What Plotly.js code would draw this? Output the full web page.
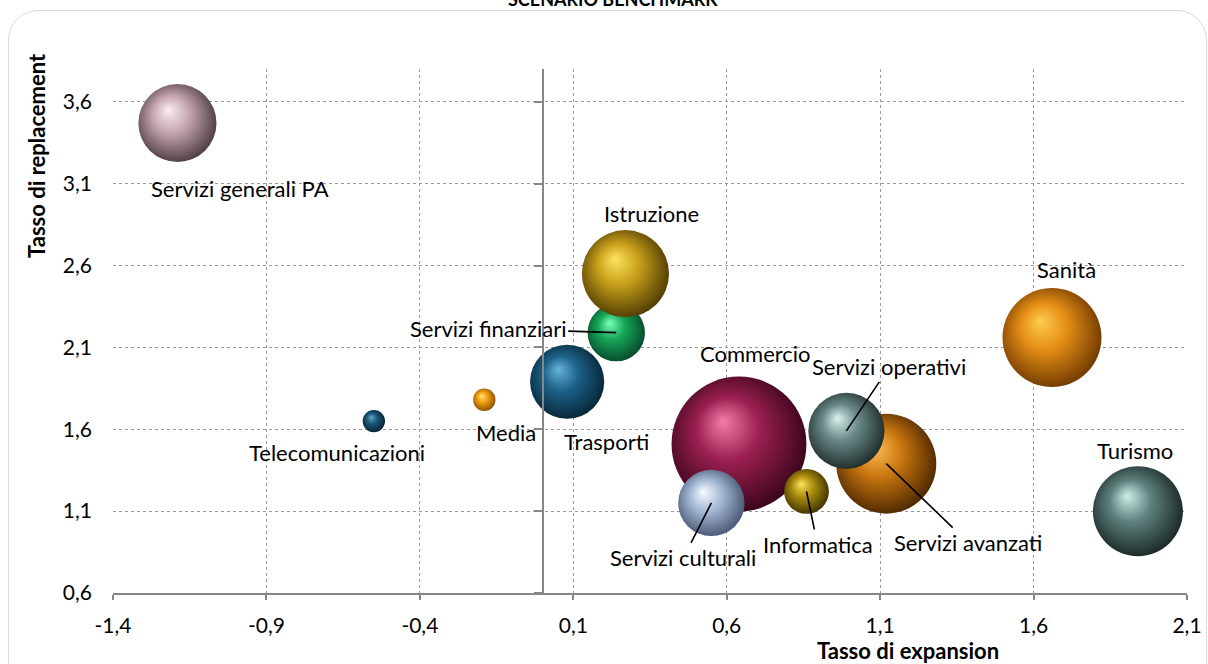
<!DOCTYPE html>
<html>
<head>
<meta charset="utf-8">
<script src="https://cdn.plot.ly/plotly-3.0.1.min.js"></script>
<style>
  html, body { margin: 0; padding: 0; background: #fff; overflow: hidden; }
  #frame {
    position: absolute; left: 8px; top: 10px; width: 1199px; height: 690px;
    border: 1px solid #d9d9d9; border-radius: 30px; box-sizing: border-box;
  }
  #chart { position: absolute; left: 0; top: 0; width: 1208px; height: 664px; }
</style>
</head>
<body>
<div id="frame"></div>
<div id="chart"></div>
<script>
// Settori: tasso di expansion (x), tasso di replacement (y), peso occupazionale (area)
const sectors = [
  "Servizi generali PA", "Telecomunicazioni", "Media", "Trasporti",
  "Servizi finanziari", "Istruzione", "Commercio", "Servizi culturali",
  "Informatica", "Servizi avanzati", "Servizi operativi", "Sanità", "Turismo"
];
const expansion   = [-1.19, -0.55, -0.19, 0.08, 0.24, 0.27, 0.64, 0.55, 0.86, 1.12, 0.99, 1.66, 1.94];
const replacement = [ 3.47,  1.65,  1.78, 1.89, 2.19, 2.55, 1.51, 1.15, 1.22, 1.39, 1.59, 2.16, 1.10];
const weight      = [   61,     5,     5,   55,   33,   76,  182,   44,   20,  100,   58,   98,   81];

const xTicks = [-1.4, -0.9, -0.4, 0.1, 0.6, 1.1, 1.6, 2.1];
const xTickText = ["-1,4", "-0,9", "-0,4", "0,1", "0,6", "1,1", "1,6", "2,1"];
const yTicks = [0.6, 1.1, 1.6, 2.1, 2.6, 3.1, 3.6];
const yTickText = ["0,6", "1,1", "1,6", "2,1", "2,6", "3,1", "3,6"];
const xRange = [-1.4, 2.1];
const yRange = [0.6, 3.8];

// sphere shading per sector: [shadow edge, body, highlight]
const shades = {
  "Servizi generali PA": ["#4a3a3f", "#c6a6b0", "#fbedf2"],
  "Telecomunicazioni":   ["#05202e", "#1c5878", "#62a8ca"],
  "Media":               ["#8a4e00", "#f0a010", "#ffe27a"],
  "Trasporti":           ["#062436", "#1d6289", "#66b4da"],
  "Servizi finanziari":  ["#05482a", "#17a658", "#7affb8"],
  "Istruzione":          ["#4c3902", "#c9a01c", "#ffe45e"],
  "Commercio":           ["#36041a", "#9b1f50", "#f27caa"],
  "Servizi culturali":   ["#465470", "#a7bbd6", "#f6fbff"],
  "Informatica":         ["#3c3000", "#ad8f10", "#fbe35a"],
  "Servizi avanzati":    ["#4a2600", "#cc7810", "#ffc05a"],
  "Servizi operativi":   ["#1c2a29", "#6a8a88", "#d8f2ee"],
  "Sanità":              ["#6e3800", "#e58e16", "#ffcc50"],
  "Turismo":             ["#182625", "#5e807c", "#cdeee8"]
};

// label placement (pixel offsets from the bubble centre)
const labelPos = {
  "Servizi generali PA": {dx: 63, dy: 65},
  "Telecomunicazioni":   {dx: -37, dy: 31},
  "Media":               {dx: 22, dy: 33},
  "Trasporti":           {dx: 39, dy: 60},
  "Istruzione":          {dx: 26, dy: -60},
  "Commercio":           {dx: 17, dy: -90},
  "Sanità":              {dx: 15, dy: -68},
  "Turismo":             {dx: -3, dy: -61}
};
// labels joined to their bubble by a leader line
const leaderPos = {
  "Servizi finanziari": {ax: -128, ay: -4},
  "Servizi operativi":  {ax: 43, ay: -64},
  "Servizi avanzati":   {ax: 82, ay: 79},
  "Informatica":        {ax: 11, ay: 53},
  "Servizi culturali":  {ax: -28, ay: 55}
};

const FONT = "Lato, 'Open Sans', sans-serif";
const LABEL_SIZE = 22;
const SIZEREF = 0.02;

const traces = sectors.map((name, i) => {
  const [edge, , light] = shades[name];
  return {
    type: "scatter", mode: "markers", uid: "ball" + i,
    x: [expansion[i]], y: [replacement[i]], text: [name],
    hoverinfo: "text", showlegend: false, cliponaxis: false,
    marker: {
      size: [weight[i]], sizemode: "area", sizeref: SIZEREF, opacity: 1,
      color: edge, line: {width: 0},
      gradient: {type: "radial", color: light}
    }
  };
});
// carrier for the vertical axis drawn at x = 0
traces.push({type: "scatter", x: [], y: [], yaxis: "y2", showlegend: false, hoverinfo: "skip"});

const labelFont = {family: FONT, size: LABEL_SIZE, color: "#000"};
const annotations = [];
sectors.forEach((name, i) => {
  if (labelPos[name]) {
    annotations.push({
      x: expansion[i], y: replacement[i], xref: "x", yref: "y",
      text: name, showarrow: false,
      xshift: labelPos[name].dx, yshift: -labelPos[name].dy,
      font: labelFont
    });
  } else if (leaderPos[name]) {
    annotations.push({
      x: expansion[i], y: replacement[i], xref: "x", yref: "y",
      text: name, showarrow: true, arrowhead: 0, arrowwidth: 1.6,
      arrowcolor: "#000", standoff: 0, startstandoff: 0,
      ax: leaderPos[name].ax, ay: leaderPos[name].ay,
      font: labelFont
    });
  }
});
annotations.push(
  {text: "<b>SCENARIO BENCHMARK</b>", xref: "paper", yref: "paper", x: 0.466, y: 1,
   xanchor: "center", yanchor: "bottom", yshift: 57, showarrow: false,
   font: {family: FONT, size: 18, color: "#000"}},
  {text: "<b>Tasso di replacement</b>", xref: "paper", yref: "paper", x: 0, y: 1,
   xanchor: "center", yanchor: "middle", xshift: -77, yshift: -87, textangle: -90,
   showarrow: false, font: {family: FONT, size: 22, color: "#000"}},
  {text: "<b>Tasso di expansion</b>", xref: "paper", yref: "paper", x: 0.74, y: 0,
   xanchor: "center", yanchor: "middle", yshift: -57, showarrow: false,
   font: {family: FONT, size: 22, color: "#000"}}
);

const gridStyle = {showgrid: true, gridcolor: "#9a9a9a", griddash: "dot", gridwidth: 1};
const layout = {
  width: 1208, height: 664,
  margin: {l: 113, r: 21, t: 69, b: 71},
  paper_bgcolor: "rgba(0,0,0,0)", plot_bgcolor: "rgba(0,0,0,0)",
  showlegend: false, hovermode: "closest",
  xaxis: Object.assign({
    range: xRange, tickmode: "array", tickvals: xTicks, ticktext: xTickText,
    showline: true, linecolor: "#878787", linewidth: 2,
    ticks: "outside", ticklen: 5, tickwidth: 1.5, tickcolor: "#878787",
    zeroline: false, ticklabelstandoff: 8,
    tickfont: {family: FONT, size: 21, color: "#000"}
  }, gridStyle),
  yaxis: Object.assign({
    range: yRange, tickmode: "array", tickvals: yTicks, ticktext: yTickText,
    showline: false, ticks: "", zeroline: false, ticklabelstandoff: 20,
    tickfont: {family: FONT, size: 21, color: "#000"}
  }, gridStyle),
  yaxis2: {
    range: yRange, tickmode: "array", tickvals: yTicks,
    overlaying: "y", anchor: "free",
    position: (0 - xRange[0]) / (xRange[1] - xRange[0]),
    side: "left", showline: true, linecolor: "#878787", linewidth: 2,
    ticks: "outside", ticklen: 8, tickwidth: 1.5, tickcolor: "#878787",
    showticklabels: false, showgrid: false, zeroline: false
  },
  annotations: annotations
};

const SVG_NS = "http://www.w3.org/2000/svg";
Plotly.newPlot("chart", traces, layout, {displayModeBar: false}).then(gd => {
  // light each sphere from the upper left and add the body tone between highlight and shadow
  gd.querySelectorAll("radialGradient").forEach(g => {
    const id = g.getAttribute("id") || "";
    const m = id.match(/ball(\d+)/);
    if (!m) return;
    const body = shades[sectors[+m[1]]][1];
    g.setAttribute("cx", "0.47"); g.setAttribute("cy", "0.47");
    g.setAttribute("r", "0.56");
    g.setAttribute("fx", "0.38"); g.setAttribute("fy", "0.33");
    const stops = g.querySelectorAll("stop");
    const mid = document.createElementNS(SVG_NS, "stop");
    mid.setAttribute("offset", "42%");
    mid.setAttribute("stop-color", body);
    g.insertBefore(mid, stops[stops.length - 1]);
  });
});
</script>
</body>
</html>
